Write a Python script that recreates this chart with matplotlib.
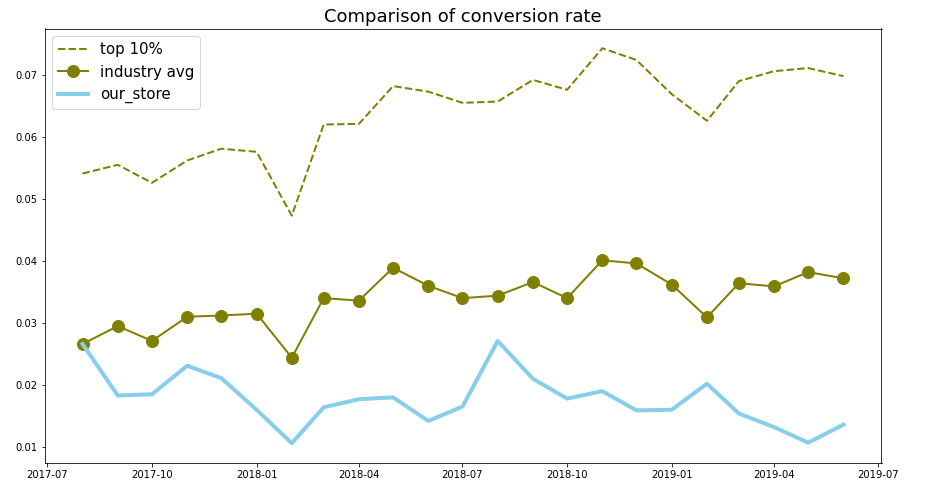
import pandas as pd
import matplotlib
matplotlib.use("Agg")
import matplotlib.pyplot as plt

months = pd.date_range("2017-08-01", "2019-06-01", freq="MS")

top10 = [0.0541, 0.0555, 0.0526, 0.0562, 0.0581, 0.0576, 0.0473, 0.0620, 0.0621,
         0.0682, 0.0673, 0.0655, 0.0657, 0.0692, 0.0676, 0.0743, 0.0724, 0.0669,
         0.0626, 0.0690, 0.0706, 0.0711, 0.0698]
industry_avg = [0.0266, 0.0295, 0.0271, 0.0310, 0.0312, 0.0315, 0.0244, 0.0340, 0.0336,
                0.0389, 0.0360, 0.0340, 0.0344, 0.0366, 0.0340, 0.0401, 0.0396, 0.0362,
                0.0309, 0.0364, 0.0359, 0.0382, 0.0372]
our_store = [0.0266, 0.0183, 0.0185, 0.0231, 0.0211, 0.0160, 0.0106, 0.0164, 0.0177,
             0.0180, 0.0142, 0.0165, 0.0271, 0.0210, 0.0178, 0.0190, 0.0159, 0.0160,
             0.0202, 0.0154, 0.0132, 0.0107, 0.0136]

fig = plt.figure(figsize=(925 / 72, 497 / 72), dpi=72)
ax = fig.add_axes([44.5 / 925, 1 - 463 / 497, (881.5 - 44.5) / 925, (463 - 28.5) / 497])

ax.plot(months, top10, color="olive", linestyle="--", linewidth=2, label="top 10%")
ax.plot(months, industry_avg, color="olive", marker="o", markersize=12, linewidth=2,
        label="industry avg")
ax.plot(months, our_store, color="skyblue", linewidth=4, label="our_store")

ax.set_title("Comparison of conversion rate", fontsize=18)
ax.legend(loc="upper left", fontsize=15)

fig.savefig("out.png", dpi=72)
